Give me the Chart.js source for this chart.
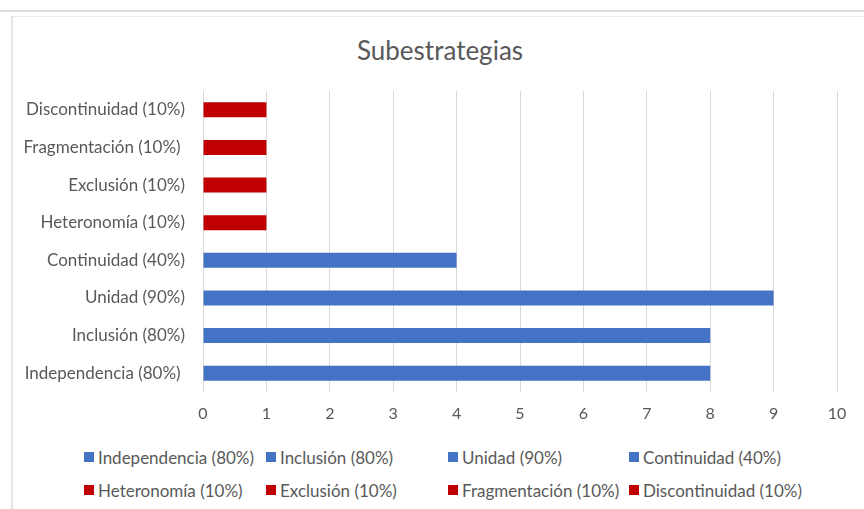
<!DOCTYPE html>
<html>
<head>
<meta charset="utf-8">
<script src="https://cdn.jsdelivr.net/npm/chart.js@4.4.1/dist/chart.umd.min.js"></script>
<style>
  html, body { margin: 0; padding: 0; background: #fff; }
  body { width: 864px; height: 509px; position: relative; overflow: hidden; font-family: Lato, "Liberation Sans", sans-serif; }
  #topline { position: absolute; left: 0; top: 10px; width: 864px; height: 0; border-top: 2px solid #dcdcdc; }
  #frame { position: absolute; left: 11px; top: 16px; width: 900px; height: 520px; border-left: 2px solid #e6e6e6; border-top: 1px solid #ececec; }
  #wrap { position: absolute; left: 0; top: 0; width: 864px; height: 430px; }
  #title { position: absolute; left: 0; width: 880px; top: 34px; text-align: center; font-size: 26px; color: #595959; }
  #legend { position: absolute; left: 84px; top: 447px; display: grid; grid-template-columns: 182px 182px 181px 181px; row-gap: 13px; }
  .item { display: flex; align-items: center; font-size: 17px; color: #595959; height: 20px; white-space: nowrap; }
  .box { width: 10px; height: 10px; margin-right: 4px; flex: none; }
</style>
</head>
<body>
<div id="topline"></div>
<div id="frame"></div>
<div id="title">Subestrategias</div>
<div id="wrap"><canvas id="c"></canvas></div>
<div id="legend"></div>
<script>
// Categories listed bottom to top (legend order)
const categories = [
  "Independencia (80%) ",
  "Inclusión (80%)",
  "Unidad (90%)",
  "Continuidad (40%)",
  "Heteronomía (10%)",
  "Exclusión (10%)",
  "Fragmentación (10%) ",
  "Discontinuidad (10%)"
];
const counts = [8, 8, 9, 4, 1, 1, 1, 1];
const groups = ["pos", "pos", "pos", "pos", "neg", "neg", "neg", "neg"];
const xTicks = [0, 1, 2, 3, 4, 5, 6, 7, 8, 9, 10];

const colorFor = { pos: "#4472C4", neg: "#C00000" };
const textColor = "#595959";
const fontFamily = "Lato, 'Liberation Sans', sans-serif";

const datasets = categories.map((name, i) => ({
  label: name.trim(),
  data: categories.map((_, j) => (j === i ? counts[i] : null)),
  backgroundColor: colorFor[groups[i]],
  borderWidth: 0,
  barPercentage: 0.8,
  categoryPercentage: 0.5
}));

const chart = new Chart(document.getElementById("c"), {
  type: "bar",
  data: { labels: categories, datasets },
  options: {
    indexAxis: "y",
    responsive: true,
    maintainAspectRatio: false,
    animation: false,
    layout: { padding: { top: 91, left: 12, right: 27, bottom: 0 } },
    plugins: {
      legend: { display: false },
      title: { display: false },
      tooltip: { enabled: false }
    },
    scales: {
      x: {
        type: "linear",
        stacked: true,
        min: xTicks[0],
        max: xTicks[xTicks.length - 1],
        afterBuildTicks: (axis) => { axis.ticks = xTicks.map(v => ({ value: v })); },
        afterFit: (axis) => { axis.height = 38; },
        grid: { color: "#d9d9d9", lineWidth: 1, drawTicks: false },
        border: { display: false },
        ticks: { color: textColor, font: { family: fontFamily, size: 16 }, padding: 12 }
      },
      y: {
        stacked: true,
        reverse: true,
        afterFit: (axis) => { axis.width = 191; },
        grid: { display: false, drawTicks: false },
        border: { display: false },
        ticks: { color: textColor, font: { family: fontFamily, size: 17 }, padding: 18 }
      }
    }
  }
});

// HTML legend built from the chart's datasets
const legendEl = document.getElementById("legend");
chart.data.datasets.forEach(ds => {
  const item = document.createElement("div");
  item.className = "item";
  const box = document.createElement("span");
  box.className = "box";
  box.style.background = ds.backgroundColor;
  const txt = document.createElement("span");
  txt.textContent = ds.label;
  item.appendChild(box);
  item.appendChild(txt);
  legendEl.appendChild(item);
});
</script>
</body>
</html>
